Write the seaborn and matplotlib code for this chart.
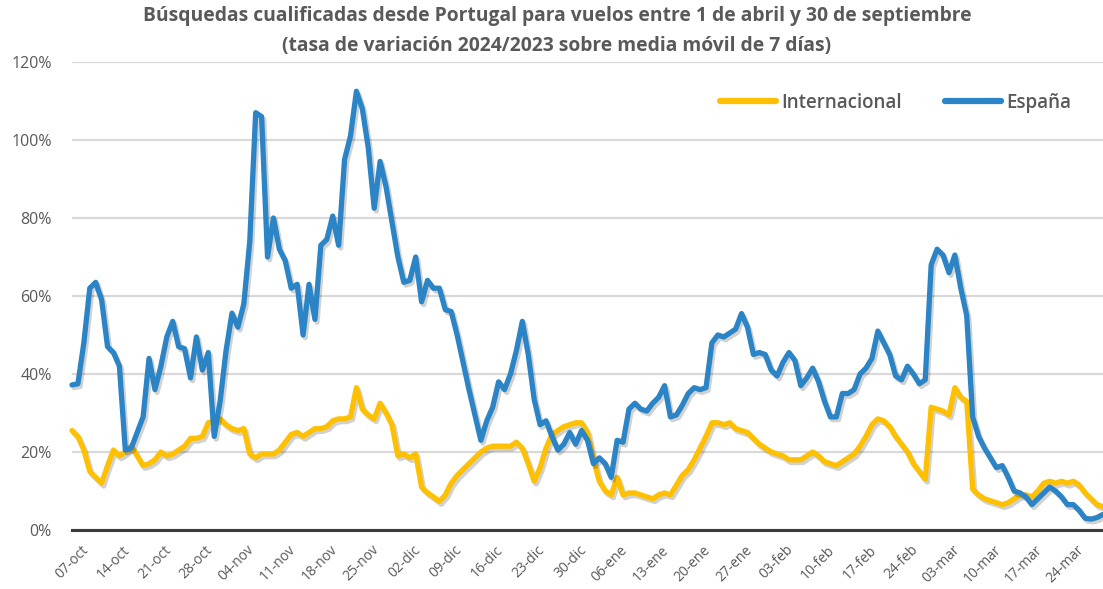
import numpy as np
import pandas as pd
import seaborn as sns
import matplotlib
matplotlib.use("Agg")
import matplotlib.pyplot as plt
import matplotlib.patheffects as pe
from matplotlib.transforms import ScaledTranslation
from matplotlib.lines import Line2D

# ---------------- data (daily, 07-oct .. 30-mar) ----------------
espana = [
    37.2, 37.5, 48, 62, 63.5, 59, 47, 45.5, 42, 20.5,
    21, 25, 29, 44, 36, 42, 49.5, 53.5, 47, 46.5,
    39, 49.5, 41, 45.5, 24, 33, 46, 55.6, 52, 58,
    74, 107, 106, 70, 80, 72, 69, 62, 63, 50,
    63, 54, 73, 74.5, 80.5, 73, 95, 101, 112.5, 108,
    98, 82.5, 94.5, 88, 79, 70, 63.5, 64, 70, 58.5,
    64, 62, 62, 56.5, 56, 50, 43, 36, 29.5, 23,
    28, 31.5, 38, 36, 40, 46, 53.5, 45, 33.5, 27,
    28, 24, 20.5, 22, 25, 22, 25.5, 23, 17, 18.5,
    17, 13.5, 23, 22.5, 31, 32.5, 31, 30.5, 32.5, 34,
    37, 29, 29.5, 32, 35, 36.5, 36, 36.5, 48, 50,
    49.5, 50.5, 51.5, 55.5, 52, 45, 45.5, 45, 41, 39.5,
    43, 45.5, 43.5, 37, 39, 41.5, 38, 33, 29, 29,
    35, 35, 36, 40, 41.5, 44, 51, 48, 45, 39.5,
    38.5, 42, 40, 37.5, 38.5, 68, 72, 70.5, 66, 70.5,
    62, 55, 29, 24, 21, 18.5, 16, 16.5, 13.5, 10,
    9.5, 8.5, 6.5, 8, 9.5, 11, 10, 8.5, 6.5, 6.5,
    5, 3, 2.8, 3.2, 4,
]

internacional = [
    25.5, 24, 20.5, 15, 13.5, 12, 16.5, 20.5, 19, 20,
    21.5, 19, 16.5, 17, 18, 20, 19, 19.5, 20.5, 21.5,
    23.5, 23.5, 24, 27.5, 28, 28.5, 27, 26, 25.5, 26,
    19.5, 18.5, 19.5, 19.5, 19.5, 20.5, 22.5, 24.5, 25, 24,
    25, 26, 26, 26.5, 28, 28.5, 28.5, 29, 36.5, 31,
    29.5, 28.5, 32.5, 30, 27, 19, 19.5, 18.5, 19.5, 11,
    9.5, 8.5, 7.3, 9, 12, 14, 15.5, 17, 18.5, 20,
    21, 21.5, 21.5, 21.5, 21.5, 22.5, 21, 17, 12.5, 16,
    21, 24.5, 25.5, 26.5, 27, 27.5, 27.5, 25, 18, 12.5,
    10, 9, 13.5, 9, 9.5, 9.5, 9, 8.5, 8, 9,
    9.5, 9, 11.5, 14, 15.5, 18, 21, 24, 27.5, 27.5,
    27, 27.5, 26, 25.5, 25, 23.5, 22, 21, 20, 19.5,
    19, 18, 18, 18, 19, 20, 19, 17.5, 17, 16.5,
    17.5, 18.5, 19.5, 21.5, 24, 27, 28.5, 28, 26.5, 24,
    22, 20, 17, 15, 13, 31.5, 31, 30.5, 29.5, 36.5,
    34, 33, 10.5, 9, 8, 7.5, 7, 6.5, 7, 8,
    9, 9, 8.5, 10, 12, 12.5, 12, 12.5, 12, 12.5,
    11.5, 9.5, 8, 6.5, 6,
]

tick_labels = [
    "07-oct", "14-oct", "21-oct", "28-oct", "04-nov", "11-nov", "18-nov",
    "25-nov", "02-dic", "09-dic", "16-dic", "23-dic", "30-dic", "06-ene",
    "13-ene", "20-ene", "27-ene", "03-feb", "10-feb", "17-feb", "24-feb",
    "03-mar", "10-mar", "17-mar", "24-mar",
]

series_names = ["Internacional", "España"]
y_ticks = [0, 20, 40, 60, 80, 100, 120]

title = ("Búsquedas cualificadas desde Portugal para vuelos entre 1 de abril y 30 de septiembre\n"
         "(tasa de variación 2024/2023 sobre media móvil de 7 días)")

# ---------------- build long table ----------------
day = np.arange(len(espana))
df = pd.concat([
    pd.DataFrame({"dia": day, "valor": internacional, "serie": series_names[0]}),
    pd.DataFrame({"dia": day, "valor": espana, "serie": series_names[1]}),
], ignore_index=True)

# ---------------- style ----------------
sns.set_theme(style="white")
plt.rcParams["font.family"] = ["Open Sans", "DejaVu Sans"]
grey = "#595959"
palette = {"Internacional": "#FFC000", "España": "#2A84C6"}

fig = plt.figure(figsize=(11.03, 5.89), dpi=100)
ax = fig.add_axes([72 / 1103, (589 - 530) / 589, (1103 - 72) / 1103, (530 - 62) / 589])

sns.lineplot(data=df, x="dia", y="valor", hue="serie", palette=palette,
             hue_order=series_names, linewidth=3.8, ax=ax, legend=False,
             solid_joinstyle="round", solid_capstyle="round")

for ln in ax.get_lines():
    ln.set_path_effects([pe.SimpleLineShadow(offset=(1.5, -2), shadow_color="#000000", alpha=0.18),
                         pe.Normal()])
    ln.set_clip_on(False)

ax.set_xlim(0, len(espana) - 1)
ax.set_ylim(0, 120)

# gridlines
ax.set_yticks(y_ticks)
ax.set_yticklabels([f"{v}%" for v in y_ticks], color=grey, fontsize=11.5)
ax.yaxis.grid(True, color="#D9D9D9", linewidth=1.6)
ax.set_axisbelow(True)
ax.tick_params(axis="y", length=0, pad=14.5)
for s in ["top", "right", "left"]:
    ax.spines[s].set_visible(False)
ax.spines["bottom"].set_color("#3A3A3A")
ax.spines["bottom"].set_linewidth(2.2)
ax.spines["bottom"].set_zorder(5)

# x ticks weekly
ax.set_xticks(np.arange(len(tick_labels)) * 7)
ax.set_xticklabels(tick_labels, rotation=45, ha="right", rotation_mode="anchor",
                   color=grey, fontsize=10)
ax.tick_params(axis="x", length=0, pad=9)
offset = ScaledTranslation(9 / 100, 0, fig.dpi_scale_trans)
for lbl in ax.get_xticklabels():
    lbl.set_transform(lbl.get_transform() + offset)

ax.set_xlabel("")
ax.set_ylabel("")

# title
fig.text(557 / 1103, 1 - 31 / 589, title, ha="center", va="center", color=grey,
         fontsize=13.9, fontweight="bold", linespacing=1.6)

# legend
handles = [Line2D([0], [0], color=palette[n], linewidth=4.5, solid_capstyle="round")
           for n in series_names]
leg = fig.legend(handles, series_names, loc="center",
                 bbox_to_anchor=((716 + 1075) / 2 / 1103, 1 - 103 / 589),
                 ncol=2, frameon=False, fontsize=13.5, handlelength=3.0,
                 handletextpad=0.25, columnspacing=2.3)
for t in leg.get_texts():
    t.set_color(grey)
    t.set_fontweight("semibold")

fig.savefig("out.png", dpi=100)
